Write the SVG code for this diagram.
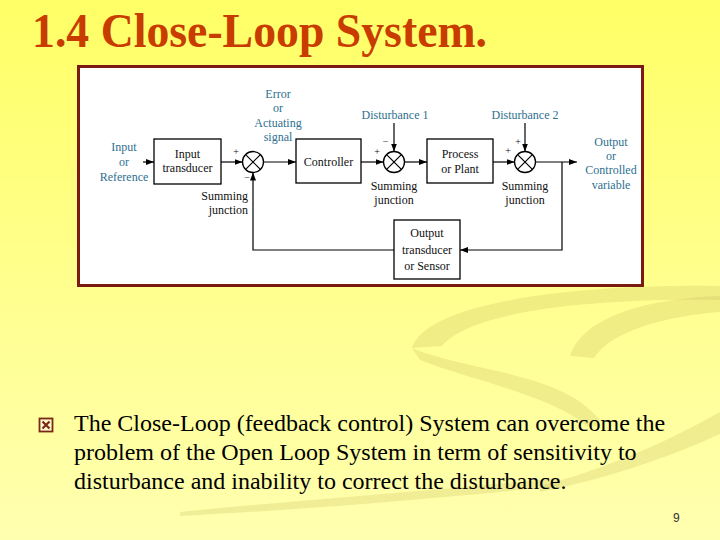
<svg xmlns="http://www.w3.org/2000/svg" width="720" height="540" viewBox="0 0 720 540">
<defs>
<linearGradient id="bg" x1="0" y1="0" x2="0" y2="1">
<stop offset="0" stop-color="#ffff66"/>
<stop offset="0.5" stop-color="#ffff8c"/>
<stop offset="1" stop-color="#ffffb0"/>
</linearGradient>
<marker id="ah" markerUnits="userSpaceOnUse" markerWidth="9" markerHeight="7" refX="8" refY="3" orient="auto">
<path d="M0,0 L8,3 L0,6 z" fill="#000"/>
</marker>
<style>
.box{fill:#fff;stroke:#000;stroke-width:1.3}
.sj{fill:#fff;stroke:#000;stroke-width:1.3}
.x{stroke:#000;stroke-width:1.2}
.ln{fill:none;stroke:#000;stroke-width:1.2}
.t{font-family:"Liberation Serif","Times New Roman",serif;font-size:12px;fill:#111;text-anchor:middle}
.c{fill:#2e7090}
.r{text-anchor:end}
.s{font-family:"Liberation Serif",serif;font-size:10px;fill:#111;text-anchor:middle}
.body{font-family:"Liberation Serif","Times New Roman",serif;font-size:24px;fill:#000}
.sw{fill:#c8c060;opacity:0.28}
</style>
</defs>
<rect x="0" y="0" width="720" height="540" fill="url(#bg)"/>
<g id="swoosh">
<path class="sw" d="M412,348 C425,305 560,284 720,286 L720,300 C585,298 470,312 442,346 Z"/>
<path class="sw" d="M570,356 C585,312 660,298 720,296 L720,312 C668,316 612,330 594,358 Z"/>
<path class="sw" d="M412,348 C470,372 560,372 598,418 C604,425 590,430 584,424 C550,395 470,380 420,360 Z"/>
<path class="sw" d="M540,486 C610,468 670,440 720,412 L720,434 C672,456 610,478 540,492 Z"/>
<path class="sw" d="M180,512 C300,500 440,490 560,478 L560,486 C440,498 300,510 180,516 Z"/>
</g>
<text x="32" y="47" font-family="Liberation Serif,'Times New Roman',serif" font-size="48" font-weight="bold" fill="#c83c00" textLength="455" lengthAdjust="spacingAndGlyphs">1.4 Close-Loop System.</text>
<rect x="78.5" y="66.5" width="564" height="219" fill="#fff" stroke="#7a1a10" stroke-width="3"/>
<g id="connectors">
<line class="ln" x1="143" y1="162" x2="154" y2="162" marker-end="url(#ah)"/>
<line class="ln" x1="221" y1="162" x2="242.5" y2="162" marker-end="url(#ah)"/>
<line class="ln" x1="263.5" y1="162" x2="296" y2="162" marker-end="url(#ah)"/>
<line class="ln" x1="361" y1="162" x2="383.5" y2="162" marker-end="url(#ah)"/>
<line class="ln" x1="394" y1="123" x2="394" y2="151.5" marker-end="url(#ah)"/>
<line class="ln" x1="404.5" y1="162" x2="427" y2="162" marker-end="url(#ah)"/>
<line class="ln" x1="493" y1="162" x2="514.5" y2="162" marker-end="url(#ah)"/>
<line class="ln" x1="525" y1="123" x2="525" y2="151.5" marker-end="url(#ah)"/>
<line class="ln" x1="535.5" y1="162" x2="577" y2="162" marker-end="url(#ah)"/>
<polyline class="ln" points="562,162 562,250 460,250" marker-end="url(#ah)"/>
<polyline class="ln" points="394,250 253,250 253,172.5" marker-end="url(#ah)"/>
</g>
<g id="input-label">
<text class="t c" x="124" y="151">Input</text>
<text class="t c" x="124" y="166">or</text>
<text class="t c" x="124" y="181">Reference</text>
</g>
<g id="input-transducer">
<rect class="box" x="154" y="139" width="67" height="45"/>
<text class="t" x="187.5" y="158">Input</text>
<text class="t" x="187.5" y="172">transducer</text>
</g>
<g id="sum1">
<circle class="sj" cx="253" cy="162" r="10.5"/>
<line class="x" x1="245.6" y1="154.6" x2="260.4" y2="169.4"/>
<line class="x" x1="260.4" y1="154.6" x2="245.6" y2="169.4"/>
<text class="s" x="236" y="154.5">+</text>
<text class="s" x="247" y="181">−</text>
<text class="t r" x="248" y="200">Summing</text>
<text class="t r" x="248" y="214">junction</text>
</g>
<g id="error-label">
<text class="t c" x="278" y="98">Error</text>
<text class="t c" x="278" y="112">or</text>
<text class="t c" x="278" y="127">Actuating</text>
<text class="t c" x="278" y="141">signal</text>
</g>
<g id="controller">
<rect class="box" x="296" y="139" width="65" height="44"/>
<text class="t" x="328.5" y="166">Controller</text>
</g>
<g id="disturbance1">
<text class="t c" x="395" y="119">Disturbance 1</text>
</g>
<g id="sum2">
<circle class="sj" cx="394" cy="162" r="10.5"/>
<line class="x" x1="386.6" y1="154.6" x2="401.4" y2="169.4"/>
<line class="x" x1="401.4" y1="154.6" x2="386.6" y2="169.4"/>
<text class="s" x="377" y="155">+</text>
<text class="s" x="385.5" y="145">−</text>
<text class="t" x="394" y="190">Summing</text>
<text class="t" x="394" y="204">junction</text>
</g>
<g id="process">
<rect class="box" x="427" y="139" width="66" height="44"/>
<text class="t" x="460" y="158">Process</text>
<text class="t" x="460" y="173">or Plant</text>
</g>
<g id="disturbance2">
<text class="t c" x="525" y="119">Disturbance 2</text>
</g>
<g id="sum3">
<circle class="sj" cx="525" cy="162" r="10.5"/>
<line class="x" x1="517.6" y1="154.6" x2="532.4" y2="169.4"/>
<line class="x" x1="532.4" y1="154.6" x2="517.6" y2="169.4"/>
<text class="s" x="508" y="154">+</text>
<text class="s" x="518" y="145">+</text>
<text class="t" x="525" y="190">Summing</text>
<text class="t" x="525" y="204">junction</text>
</g>
<g id="output-label">
<text class="t c" x="611" y="146">Output</text>
<text class="t c" x="611" y="160">or</text>
<text class="t c" x="611" y="174">Controlled</text>
<text class="t c" x="611" y="189">variable</text>
</g>
<g id="output-transducer">
<rect class="box" x="394" y="220" width="66" height="59"/>
<text class="t" x="427" y="237">Output</text>
<text class="t" x="427" y="254">transducer</text>
<text class="t" x="427" y="270">or Sensor</text>
</g>
<g id="bullet">
<rect x="39.5" y="418.5" width="13" height="13" fill="#fff8d0" stroke="#7a2a10" stroke-width="1.8"/>
<path d="M42.5,421.5 L49.5,428.5 M49.5,421.5 L42.5,428.5" stroke="#7a2a10" stroke-width="2.2"/>
</g>
<g id="body">
<text class="body" x="74" y="431">The Close-Loop (feedback control) System can overcome the</text>
<text class="body" x="74" y="460">problem of the Open Loop System in term of sensitivity to</text>
<text class="body" x="74" y="489">disturbance and inability to correct the disturbance.</text>
</g>
<text x="673" y="522" font-family="Liberation Sans,Arial,sans-serif" font-size="12" fill="#333">9</text>
</svg>
